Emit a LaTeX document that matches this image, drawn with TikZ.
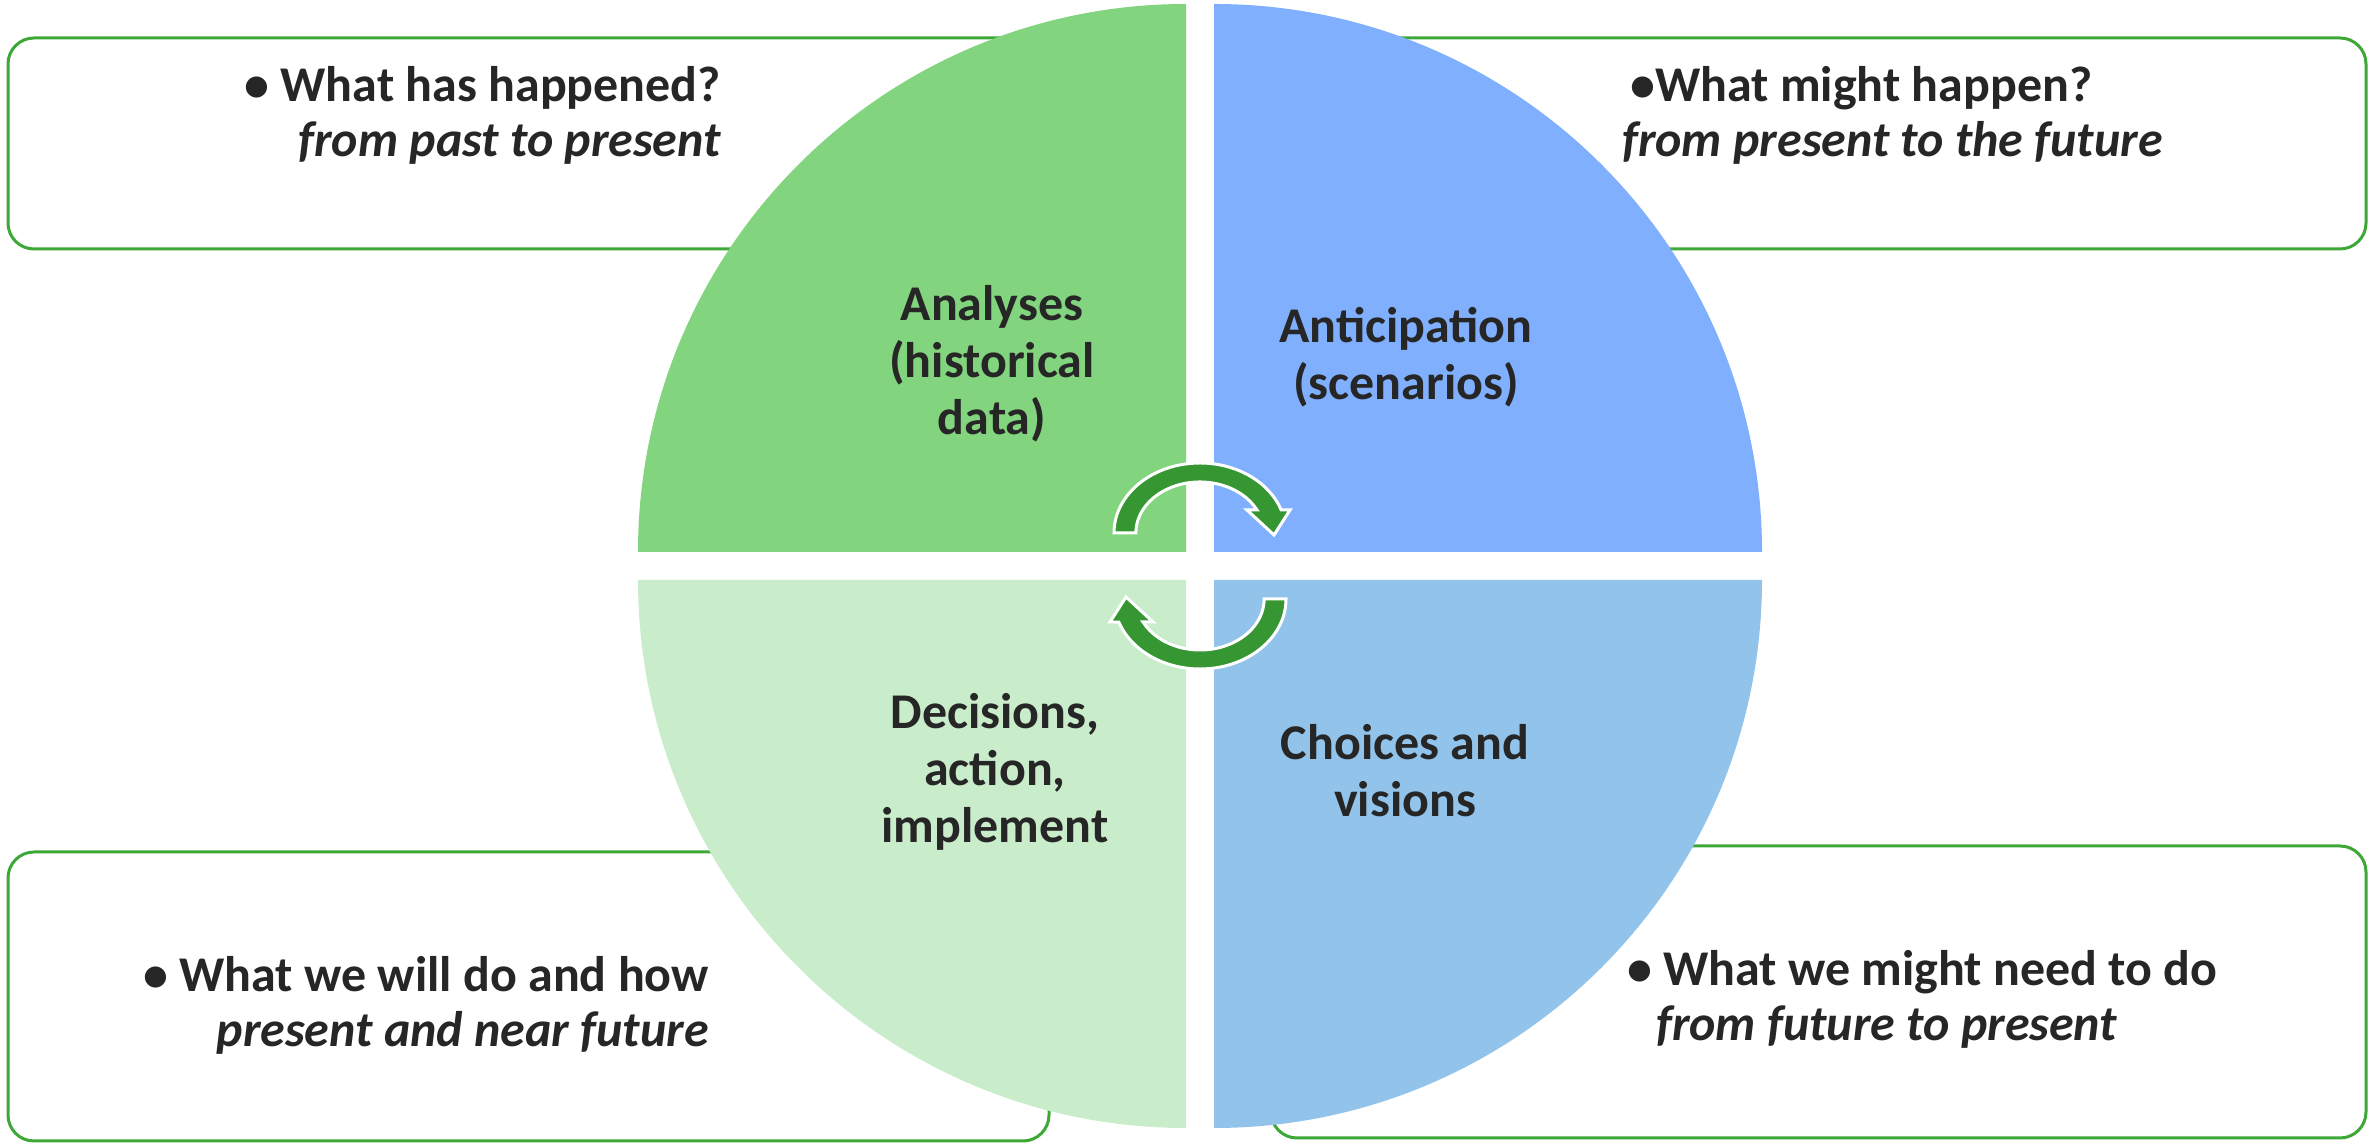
\documentclass[tikz,border=0pt]{standalone}
\usepackage{fontspec}
\setmainfont{Carlito}
\definecolor{qTL}{RGB}{130,213,126}
\definecolor{qTR}{RGB}{127,175,253}
\definecolor{qBL}{RGB}{201,237,203}
\definecolor{qBR}{RGB}{145,195,235}
\definecolor{boxgreen}{RGB}{61,168,55}
\definecolor{arrowgreen}{RGB}{53,150,50}
\definecolor{txt}{RGB}{38,38,38}
\begin{document}
\begin{tikzpicture}[x=1pt,y=1pt,
  infobox/.style={draw=boxgreen, line width=3pt, fill=white, rounded corners=26pt},
  lbl/.style={font=\bfseries\fontsize{50}{57}\selectfont, text=txt, align=center, inner sep=0pt},
  boxtxt/.style={font=\bfseries\fontsize{50}{55}\selectfont, text=txt, inner sep=0pt},
  cyc/.style={fill=arrowgreen, draw=white, line width=3pt, line join=miter}]
\useasboundingbox (0,0) rectangle (2369,1143);
% info boxes
\draw[infobox] (8,894) rectangle (1100,1105);
\draw[infobox] (1300,894) rectangle (2366,1105);
\draw[infobox] (8,2) rectangle (1049,291);
\draw[infobox] (1271,5) rectangle (2366,297);
% quadrants
\fill[qTL] (1186,591) -- (638,591) arc[start angle=180,end angle=90,radius=548] -- cycle;
\fill[qTR] (1214,591) -- (1214,1139) arc[start angle=90,end angle=0,radius=548] -- cycle;
\fill[qBL] (1186,563) -- (1186,15) arc[start angle=270,end angle=180,radius=548] -- cycle;
\fill[qBR] (1214,563) -- (1762,563) arc[start angle=0,end angle=-90,radius=548] -- cycle;
% cycle arrows
\draw[cyc] (1114,610) arc[start angle=180,end angle=19.2,x radius=86,y radius=70]
  -- (1290,633) -- (1274,608) -- (1247,633) -- (1257,633)
  arc[start angle=26.8,end angle=180,x radius=64,y radius=51] -- cycle;
\begin{scope}[rotate around={180:(1200,577)}]
\draw[cyc] (1114,610) arc[start angle=180,end angle=19.2,x radius=86,y radius=70]
  -- (1290,633) -- (1274,608) -- (1247,633) -- (1257,633)
  arc[start angle=26.8,end angle=180,x radius=64,y radius=51] -- cycle;
\end{scope}
% quadrant labels
\node[lbl] (analyses) at (992,779) {Analyses\\(historical\\data)};
\node[lbl] (anticip) at (1406,786) {Anticipation\\(scenarios)};
\node[lbl] (decisions) at (995,371) {Decisions,\\action,\\implement};
\node[lbl] (choices) at (1405,372) {Choices and\\visions};
% box texts
\node[boxtxt, anchor=base east] (tl1) at (721,1041) {• What has happened?};
\node[boxtxt, anchor=base east] (tl2) at (721,986) {\itshape from past to present};
\node[boxtxt, anchor=base west] (tr1) at (1630,1041) {•What might happen?};
\node[boxtxt, anchor=base west] (tr2) at (1622,986) {\itshape from present to the future};
\node[boxtxt, anchor=base east] (bl1) at (709,151) {• What we will do and how};
\node[boxtxt, anchor=base east] (bl2) at (709,96) {\itshape present and near future};
\node[boxtxt, anchor=base west] (br1) at (1627,157) {• What we might need to do};
\node[boxtxt, anchor=base west] (br2) at (1656,102) {\itshape from future to present};
\end{tikzpicture}
\end{document}
